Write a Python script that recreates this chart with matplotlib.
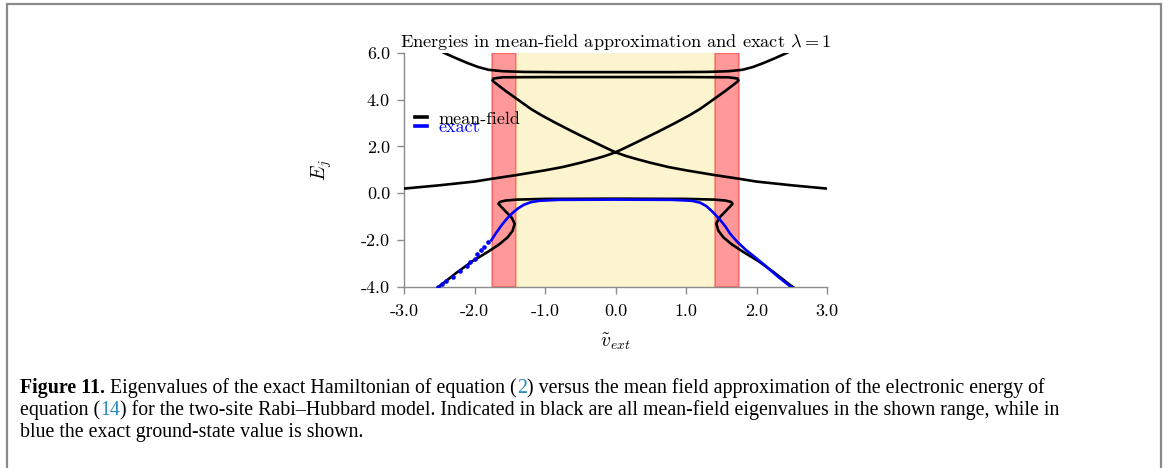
import matplotlib
matplotlib.use("Agg")
import matplotlib.pyplot as plt
from matplotlib.patches import Rectangle
from matplotlib.ticker import FormatStrFormatter

# ---------------------------------------------------------------- data
x_ticks = [-3.0, -2.0, -1.0, 0.0, 1.0, 2.0, 3.0]
y_ticks = [-4.0, -2.0, 0.0, 2.0, 4.0, 6.0]

# shaded regions of v_ext
red_left = (-1.75, -1.414)
yellow_mid = (-1.414, 1.414)
red_right = (1.414, 1.75)

# mean-field branch: U-shaped upper level
upper_x = [-2.52, -2.40, -2.25, -2.10, -1.95, -1.80, -1.60, -1.30, -0.80, 0.00,
           0.80, 1.30, 1.60, 1.80, 1.95, 2.10, 2.25, 2.40, 2.52]
upper_y = [6.12, 5.95, 5.75, 5.56, 5.39, 5.27, 5.21, 5.18, 5.17, 5.17,
           5.17, 5.18, 5.21, 5.27, 5.39, 5.56, 5.75, 5.95, 6.12]

# mean-field branch: swallowtail crossing the centre
swallow_x = [-3.00, -2.50, -2.00, -1.75, -1.40, -1.00, -0.75, -0.50, -0.30,
             -0.15, 0.00, 0.15, 0.37, 0.60, 0.84, 1.05, 1.20, 1.41,
             1.55, 1.65, 1.72, 1.745, 1.73, 1.60, 1.00, 0.00, -1.00, -1.60,
             -1.73, -1.745, -1.72, -1.65, -1.55, -1.41, -1.20, -1.05, -0.84,
             -0.60, -0.37, -0.15, 0.00, 0.15, 0.30, 0.50, 0.75, 1.00,
             1.40, 1.75, 2.00, 2.50, 3.00]
swallow_y = [0.20, 0.34, 0.50, 0.62, 0.78, 0.98, 1.12, 1.30, 1.46,
             1.59, 1.75, 1.96, 2.28, 2.62, 2.99, 3.33, 3.60, 4.05,
             4.35, 4.58, 4.74, 4.82, 4.90, 4.95, 4.96, 4.96, 4.96, 4.95,
             4.90, 4.82, 4.74, 4.58, 4.35, 4.05, 3.60, 3.33, 2.99,
             2.62, 2.28, 1.96, 1.75, 1.59, 1.46, 1.30, 1.12, 0.98,
             0.78, 0.62, 0.50, 0.34, 0.20]

# mean-field branch: lowest level with its two folds
lower_x = [-2.56, -2.47, -2.25, -2.03, -1.80, -1.65, -1.53, -1.46, -1.43,
           -1.47, -1.55, -1.62, -1.66, -1.64, -1.56, -1.40, -1.00, 0.00,
           1.00, 1.40, 1.56, 1.64, 1.66, 1.62, 1.55, 1.47, 1.43,
           1.46, 1.53, 1.65, 1.80, 2.03, 2.25, 2.47, 2.56]
lower_y = [-4.10, -3.90, -3.38, -2.90, -2.48, -2.18, -1.88, -1.60, -1.30,
           -1.05, -0.80, -0.58, -0.45, -0.37, -0.31, -0.27, -0.24, -0.23,
           -0.24, -0.27, -0.31, -0.37, -0.45, -0.58, -0.80, -1.05, -1.30,
           -1.60, -1.88, -2.18, -2.48, -2.90, -3.38, -3.90, -4.10]

# exact ground state
exact_x = [-1.76, -1.70, -1.62, -1.54, -1.46, -1.38, -1.30, -1.20, -1.08,
           -0.80, 0.00, 0.80, 1.08, 1.20, 1.29, 1.38, 1.48, 1.56, 1.62,
           1.72, 1.85, 2.00, 2.14, 2.30, 2.49, 2.53]
exact_y = [-2.00, -1.72, -1.38, -1.08, -0.84, -0.64, -0.49, -0.38, -0.32,
           -0.28, -0.27, -0.28, -0.32, -0.40, -0.55, -0.80, -1.12, -1.42, -1.70,
           -2.05, -2.42, -2.78, -3.13, -3.55, -4.00, -4.10]
exact_sparse_x = [-1.81, -1.86, -1.91, -1.96, -2.00, -2.06, -2.11, -2.21,
                  -2.31, -2.40, -2.46, -2.52]
exact_sparse_y = [-2.10, -2.28, -2.42, -2.60, -2.80, -2.95, -3.10, -3.30,
                  -3.56, -3.75, -3.88, -4.00]

# ---------------------------------------------------------------- style
plt.rcParams["font.family"] = ["cmr10", "DejaVu Serif"]
plt.rcParams["mathtext.fontset"] = "cm"
plt.rcParams["axes.unicode_minus"] = False
plt.rcParams["axes.formatter.use_mathtext"] = True

W, H = 1165, 468
fig = plt.figure(figsize=(W / 100, H / 100), dpi=100)
fig.patch.set_facecolor("white")

# frame around figure and caption
fig.add_artist(Rectangle((6.5 / W, -0.05), (1161 - 6.5) / W, 1 + 0.05 - 4.5 / H,
                         transform=fig.transFigure, fill=False,
                         edgecolor="#8a8a8a", linewidth=1.6))

ax = fig.add_axes([404 / W, 1 - 287 / H, 423 / W, (287 - 52.7) / H])
ax.set_xlim(-3.0, 3.0)
ax.set_ylim(-4.0, 6.0)

ax.axvspan(*red_left, color="red", alpha=0.4, lw=1.2, zorder=0)
ax.axvspan(*yellow_mid, color="#f2dc5d", alpha=0.3, lw=0, zorder=0)
ax.axvspan(*red_right, color="red", alpha=0.4, lw=1.2, zorder=0)

lw = 1.9
ax.plot(upper_x, upper_y, color="black", lw=lw, label="mean-field", zorder=3)
ax.plot(swallow_x, swallow_y, color="black", lw=lw, zorder=3)
ax.plot(lower_x, lower_y, color="black", lw=lw, zorder=3)
ax.plot(exact_x, exact_y, color="blue", lw=lw, label="exact", zorder=4)
ax.plot(exact_sparse_x, exact_sparse_y, ls="none", marker="o", ms=2.3,
        color="blue", zorder=4)

for s in ("top", "right"):
    ax.spines[s].set_visible(False)
for s in ("left", "bottom"):
    ax.spines[s].set_color("#8c8c8c")
    ax.spines[s].set_linewidth(1.0)
ax.tick_params(colors="#8c8c8c", labelcolor="black", length=5, width=1.0,
               labelsize=13)
ax.tick_params(axis="x", pad=7)
ax.tick_params(axis="y", pad=5)
ax.set_xticks(x_ticks)
ax.set_yticks(y_ticks)
ax.xaxis.set_major_formatter(FormatStrFormatter("%.1f"))
ax.yaxis.set_major_formatter(FormatStrFormatter("%.1f"))

ax.set_title(r"Energies in mean-field approximation and exact $\lambda = 1$",
             fontsize=13.2, pad=4)
ax.set_xlabel(r"$\tilde{v}_{ext}$", fontsize=14)
ax.set_ylabel(r"$E_j$", fontsize=14)
ax.xaxis.set_label_coords(0.5, -0.19)
ax.yaxis.set_label_coords(-0.165, 0.5)

leg = ax.legend(loc="upper left", bbox_to_anchor=(0.004, 0.79), frameon=False,
                handlelength=0.7, handletextpad=0.6, labelspacing=-0.4,
                borderpad=0.0, fontsize=13, labelcolor="linecolor")
for h in leg.get_lines():
    h.set_linewidth(2.6)

# ---------------------------------------------------------------- caption
cap_font = "Liberation Serif"
cap_size = 14.35
link = "#2a8cc4"
caption_lines = [
    [("Figure 11.", "bold", "black"),
     (" Eigenvalues of the exact Hamiltonian of equation (", "normal", "black"),
     ("2", "normal", link),
     (") versus the mean field approximation of the electronic energy of", "normal", "black")],
    [("equation (", "normal", "black"),
     ("14", "normal", link),
     (") for the two-site Rabi\u2013Hubbard model. Indicated in black are all "
      "mean-field eigenvalues in the shown range, while in", "normal", "black")],
    [("blue the exact ground-state value is shown.", "normal", "black")],
]
baselines = [393, 415, 437]

renderer = fig.canvas.get_renderer()
for pieces, yb in zip(caption_lines, baselines):
    x_px = 20.0
    for txt, weight, col in pieces:
        t = fig.text(x_px / W, 1 - yb / H, txt, family=cap_font,
                     fontsize=cap_size, weight=weight, color=col,
                     ha="left", va="baseline")
        bb = t.get_window_extent(renderer)
        x_px = bb.x1

fig.savefig("out.png", dpi=100)
